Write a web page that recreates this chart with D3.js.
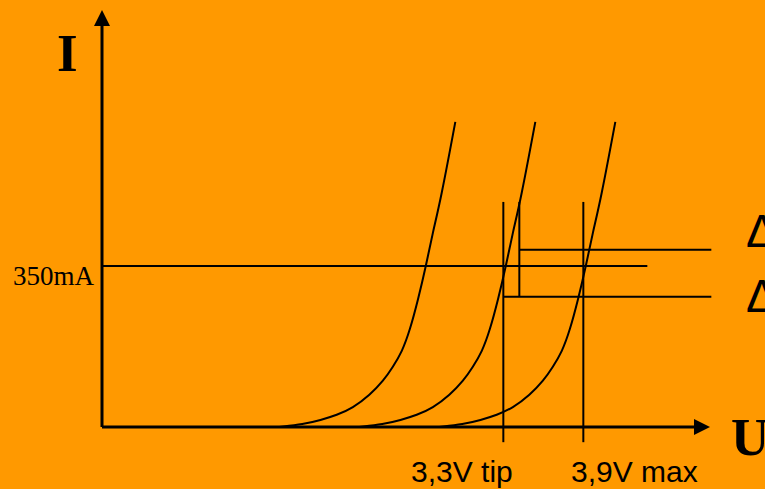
<!DOCTYPE html>
<html>
<head>
<meta charset="utf-8">
<script src="https://cdn.jsdelivr.net/npm/d3@7"></script>
<style>
html,body{margin:0;padding:0;background:#FF9900;}
svg{display:block;}
</style>
</head>
<body>
<svg id="chart" width="765" height="489"></svg>
<script>
// ---- data (U in volts, I in mA) ----
const curveNames = ["low", "typ", "max"];
const curveLowU = [1.62, 1.80, 1.93, 2.05, 2.17, 2.30, 2.40, 2.47, 2.54, 2.60, 2.66, 2.72, 2.77, 2.83, 2.94];
const curveLowI = [0, 6, 15, 26, 41, 70, 100, 130, 163, 211, 276, 350, 422, 493, 663];
const curveTypU = [2.22, 2.40, 2.53, 2.65, 2.77, 2.90, 3.00, 3.07, 3.14, 3.20, 3.26, 3.32, 3.37, 3.43, 3.54];
const curveTypI = [0, 6, 15, 26, 41, 70, 100, 130, 163, 211, 276, 350, 422, 493, 663];
const curveMaxU = [2.82, 3.00, 3.13, 3.25, 3.37, 3.50, 3.60, 3.67, 3.74, 3.80, 3.86, 3.92, 3.97, 4.03, 4.14];
const curveMaxI = [0, 6, 15, 26, 41, 70, 100, 130, 163, 211, 276, 350, 422, 493, 663];

const refCurrent = 350;          // mA
const refCurrentLabel = "350mA";
const tickU = [3.3, 3.9];
const tickLabels = ["3,3V tip", "3,9V max"];
const deltaU = 3.42;             // second vertical marker
const upperI = 385;              // upper horizontal marker (mA)
const lowerI = 283;              // lower horizontal marker (mA)
const markerTopI = 489;
const markerBottomI = -33;
const refLineEndU = 4.38;
const markerEndU = 4.86;
const axisLabelI = "I";
const axisLabelU = "U";
const deltaLabel = "Δ";

// ---- scales ----
const x = d3.scaleLinear().domain([0.29, 4.85]).range([102, 710]);
const y = d3.scaleLinear().domain([0, 906]).range([427, 10]);

const svg = d3.select("#chart");
svg.append("rect").attr("width", 765).attr("height", 489).attr("fill", "#FF9900");

const line = d3.line().x(d => x(d[0])).y(d => y(d[1])).curve(d3.curveBasis);
const curves = [
  d3.zip(curveLowU, curveLowI),
  d3.zip(curveTypU, curveTypI),
  d3.zip(curveMaxU, curveMaxI)
];
svg.selectAll("path.curve").data(curves).join("path")
  .attr("class", "curve")
  .attr("d", line)
  .attr("fill", "none").attr("stroke", "#000").attr("stroke-width", 2);

// reference lines
const seg = (u1, i1, u2, i2, w) => svg.append("line")
  .attr("x1", x(u1)).attr("y1", y(i1)).attr("x2", x(u2)).attr("y2", y(i2))
  .attr("stroke", "#000").attr("stroke-width", w);

seg(x.domain()[0], refCurrent, refLineEndU, refCurrent, 2);
tickU.forEach(u => seg(u, markerBottomI, u, markerTopI, 2));
seg(deltaU, lowerI, deltaU, markerTopI, 2);
seg(deltaU, upperI, markerEndU, upperI, 2);
seg(tickU[0], lowerI, markerEndU, lowerI, 2);

// axes
seg(x.domain()[0], 0, 4.74, 0, 3);
svg.append("line").attr("x1", x(x.domain()[0])).attr("y1", y(0))
  .attr("x2", x(x.domain()[0])).attr("y2", y(890))
  .attr("stroke", "#000").attr("stroke-width", 3);
// arrowheads
const ox = x(x.domain()[0]);
svg.append("path").attr("d", `M${ox},${y(906)} L${ox - 8},${y(906) + 16} L${ox + 8},${y(906) + 16} Z`).attr("fill", "#000");
const ex = x(x.domain()[1]);
svg.append("path").attr("d", `M${ex},${y(0)} L${ex - 16},${y(0) - 8} L${ex - 16},${y(0) + 8} Z`).attr("fill", "#000");

// texts
svg.append("text").attr("x", 57).attr("y", 71)
  .attr("font-family", "Liberation Serif, Times New Roman, serif")
  .attr("font-weight", "bold").attr("font-size", 53).text(axisLabelI);
svg.append("text").attr("x", 731).attr("y", 455)
  .attr("font-family", "Liberation Serif, Times New Roman, serif")
  .attr("font-weight", "bold").attr("font-size", 53).text(axisLabelU);
svg.append("text").attr("x", 13).attr("y", 285)
  .attr("font-family", "Liberation Serif, Times New Roman, serif")
  .attr("font-size", 27).text(refCurrentLabel);

const tickX = [411, 571];
tickLabels.forEach((t, i) => svg.append("text").attr("x", tickX[i]).attr("y", 482)
  .attr("font-family", "Liberation Sans, Arial, sans-serif")
  .attr("font-size", 30).text(t));

[247, 312].forEach(by => svg.append("text").attr("x", 746).attr("y", by)
  .attr("font-family", "Liberation Sans, Arial, sans-serif")
  .attr("font-size", 47).text(deltaLabel));
</script>
</body>
</html>
